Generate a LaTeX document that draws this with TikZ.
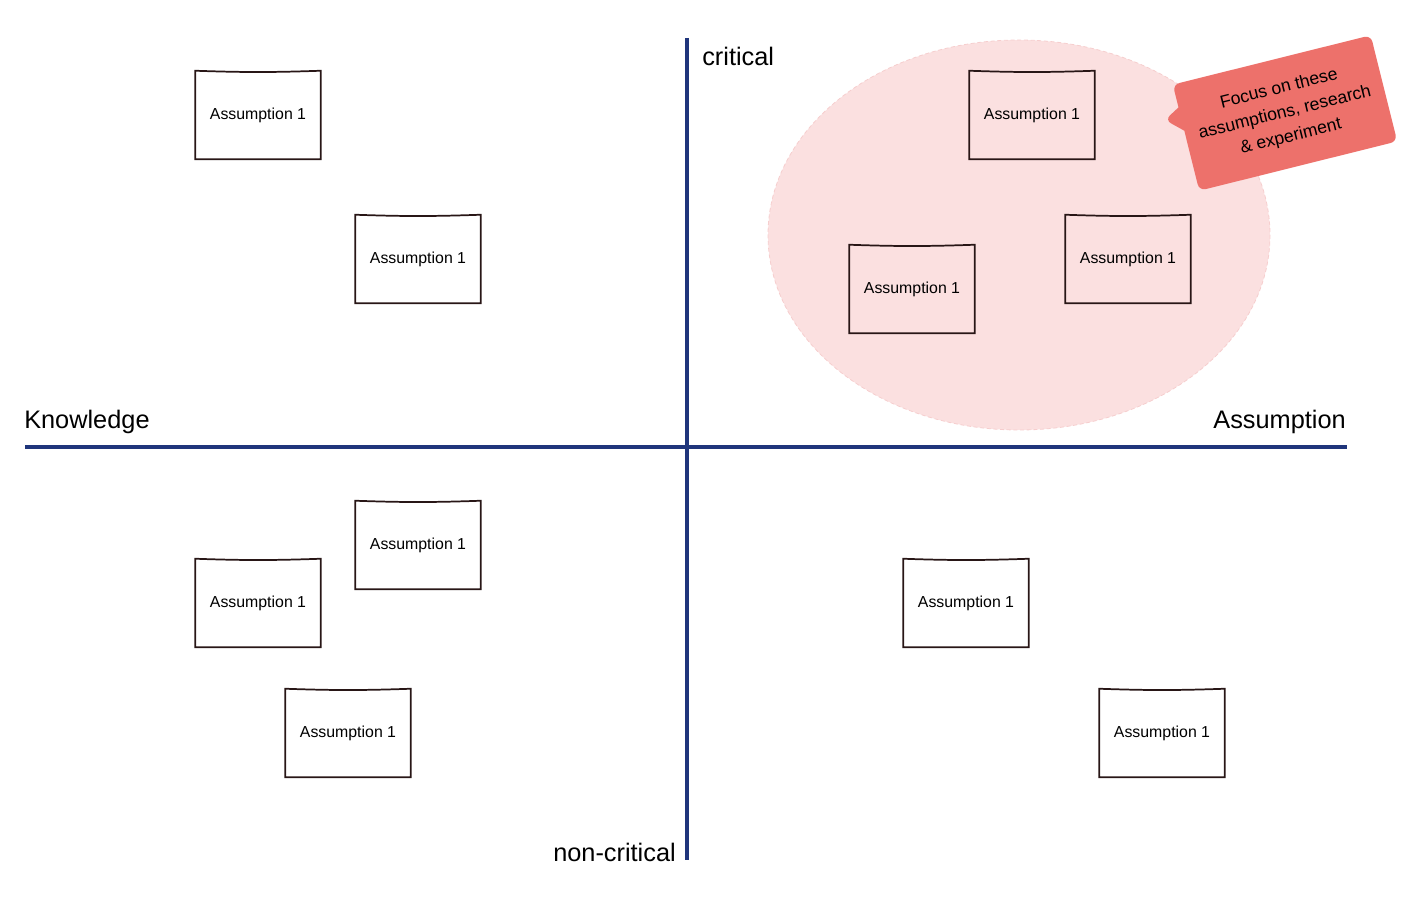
\documentclass[tikz,border=0pt]{standalone}
\usepackage{fontspec}
\setmainfont{Liberation Sans}
\usepackage{tikz}
\usetikzlibrary{shapes.callouts,positioning}
\definecolor{axisblue}{RGB}{31,53,123}
\definecolor{focusfill}{RGB}{251,224,224}
\definecolor{focusedge}{RGB}{246,206,206}
\definecolor{calloutred}{RGB}{237,113,107}
\definecolor{ink}{RGB}{40,22,22}

\begin{document}
\begin{tikzpicture}[x=0.75pt, y=-0.75pt,
        axis/.style={draw=axisblue, line width=2.6pt},
        axislabel/.style={inner sep=0pt, font=\fontsize{19}{22}\selectfont},
        sticky/.style={minimum width=93.75pt, minimum height=66pt, inner sep=0pt,
            font=\fontsize{11.9}{13}\selectfont,
            append after command={\pgfextra{\draw[ink, line width=1.3pt]
                (\tikzlastnode.north west) to[bend right=2] (\tikzlastnode.north east)
                -- (\tikzlastnode.south east) -- (\tikzlastnode.south west) -- cycle;}}},
        focusnote/.style={rectangle callout, fill=calloutred, rounded corners=5pt,
            rotate=14, minimum width=153pt, minimum height=82pt, inner sep=0pt,
            align=center, callout pointer width=18pt,
            font=\fontsize{13.2}{18.5}\selectfont}]
            \useasboundingbox (0,0) rectangle (1424,902);

            \filldraw[fill=focusfill, draw=focusedge, densely dashed, line width=0.6pt]
                (1019,235) ellipse [x radius=251, y radius=195];

            \coordinate (top) at (687,38);
            \coordinate (bottom) at (687,860);
            \coordinate (left) at (25,447);
            \coordinate (right) at (1347,447);

            \draw[axis] (top) -- (bottom);
            \draw[axis] (left) -- (right);

            \node[axislabel, anchor=west] (critical) at (702,56) {critical};
            \node[axislabel, anchor=east] (noncritical) at (676,852) {non-critical};
            \node[axislabel, anchor=west] (knowledge) at (24,422) {Knowledge};
            \node[axislabel, anchor=east] (assumption) at (1346,422) {Assumption};

            \node[sticky] (kc1) at (258,115) {Assumption 1};
            \node[sticky] (kc2) at (418,259) {Assumption 1};

            \node[sticky] (ac1) at (1032,115) {Assumption 1};
            \node[sticky] (ac2) at (1128,259) {Assumption 1};
            \node[sticky] (ac3) at (912,289) {Assumption 1};

            \node[sticky] (kn1) at (418,545) {Assumption 1};
            \node[sticky] (kn2) at (258,603) {Assumption 1};
            \node[sticky] (kn3) at (348,733) {Assumption 1};

            \node[sticky] (an1) at (966,603) {Assumption 1};
            \node[sticky] (an2) at (1162,733) {Assumption 1};

            \coordinate (tip) at (1165,120);
            \node[focusnote, callout absolute pointer=(tip)] (note) at (1285,113)
                {Focus on these\\assumptions, research\\\& experiment};
        \end{tikzpicture}
\end{document}
